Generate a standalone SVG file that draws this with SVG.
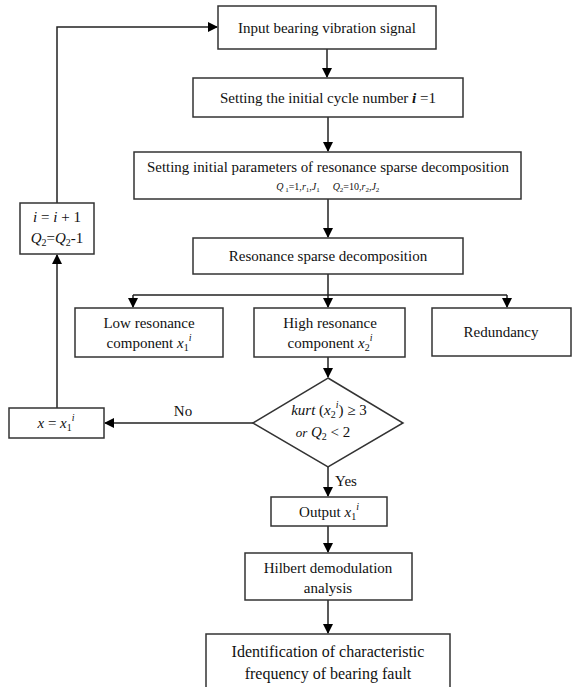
<svg xmlns="http://www.w3.org/2000/svg" width="573" height="687" viewBox="0 0 573 687">
<defs>
<marker id="ah" markerWidth="10" markerHeight="10" refX="9" refY="5" orient="auto" markerUnits="userSpaceOnUse">
<path d="M0,0 L10,5 L0,10 Z" fill="#000"/>
</marker>
<style>
.box{fill:#fff;stroke:#333;stroke-width:1.5}
.ln{fill:none;stroke:#222;stroke-width:1.5}
text{font-family:'Liberation Serif',serif;font-size:15px;fill:#111;text-anchor:middle}
.m{font-style:italic}
.sm{font-size:10px;font-style:italic}
.big{font-size:16px}
</style>
</defs>
<rect width="573" height="687" fill="#fff"/>
<g id="connectors">
<path class="ln" d="M327,49 V77" marker-end="url(#ah)"/>
<path class="ln" d="M328,117 V151" marker-end="url(#ah)"/>
<path class="ln" d="M328,199 V237" marker-end="url(#ah)"/>
<path class="ln" d="M328,274 V295"/>
<path class="ln" d="M133,295 H507"/>
<path class="ln" d="M133,295 V307" marker-end="url(#ah)"/>
<path class="ln" d="M328,295 V307" marker-end="url(#ah)"/>
<path class="ln" d="M507,295 V307" marker-end="url(#ah)"/>
<path class="ln" d="M328,357 V377" marker-end="url(#ah)"/>
<path class="ln" d="M253,423 H105" marker-end="url(#ah)"/>
<path class="ln" d="M328,467 V496" marker-end="url(#ah)"/>
<path class="ln" d="M328,526 V552" marker-end="url(#ah)"/>
<path class="ln" d="M328,600 V633" marker-end="url(#ah)"/>
<path class="ln" d="M57,408 V255" marker-end="url(#ah)"/>
<path class="ln" d="M57,203 V27 H217" marker-end="url(#ah)"/>
<text x="183" y="416">No</text>
<text x="346" y="486">Yes</text>
</g>
<g id="input">
<rect class="box" x="218" y="6" width="218" height="43"/>
<text x="327" y="33">Input bearing vibration signal</text>
</g>
<g id="init-cycle">
<rect class="box" x="193" y="78" width="270" height="39"/>
<text x="328" y="103">Setting the initial cycle number <tspan font-weight="bold" font-style="italic">i</tspan> =1</text>
</g>
<g id="init-params">
<rect class="box" x="134" y="152" width="387" height="47"/>
<text x="328" y="172" textLength="362" lengthAdjust="spacingAndGlyphs">Setting initial parameters of resonance sparse decomposition</text>
<text class="sm" x="298" y="190">Q<tspan font-size="7" dy="2" font-style="normal"> 1</tspan><tspan dy="-2" font-style="normal">=1,</tspan>r<tspan font-size="7" dy="2" font-style="normal">1</tspan><tspan dy="-2" font-style="normal">,</tspan>J<tspan font-size="7" dy="2" font-style="normal">1</tspan></text>
<text class="sm" x="356" y="190">Q<tspan font-size="7" dy="2" font-style="normal">2</tspan><tspan dy="-2" font-style="normal">=10,</tspan>r<tspan font-size="7" dy="2" font-style="normal">2</tspan><tspan dy="-2" font-style="normal">,</tspan>J<tspan font-size="7" dy="2" font-style="normal">2</tspan></text>
</g>
<g id="rsd">
<rect class="box" x="193" y="238" width="270" height="36"/>
<text x="328" y="261">Resonance sparse decomposition</text>
</g>
<g id="low">
<rect class="box" x="75" y="308" width="148" height="49"/>
<text x="149" y="328">Low resonance</text>
<text x="149" y="348">component <tspan class="m">x</tspan><tspan font-size="10" dy="3">1</tspan><tspan class="m" font-size="10" dy="-10">i</tspan></text>
</g>
<g id="high">
<rect class="box" x="254" y="308" width="151" height="49"/>
<text x="330" y="328">High resonance</text>
<text x="330" y="348">component <tspan class="m">x</tspan><tspan font-size="10" dy="3">2</tspan><tspan class="m" font-size="10" dy="-10">i</tspan></text>
</g>
<g id="redundancy">
<rect class="box" x="432" y="308" width="139" height="48"/>
<text x="501" y="337">Redundancy</text>
</g>
<g id="decision">
<polygon class="box" points="328,378 403,423 328,467 253,423"/>
<text x="329" y="415"><tspan class="m">kurt</tspan> (<tspan class="m">x</tspan><tspan font-size="10" dy="3">2</tspan><tspan class="m" font-size="10" dy="-10">i</tspan><tspan dy="7">) ≥ 3</tspan></text>
<text x="323" y="437"><tspan class="m" font-size="13">or</tspan>  <tspan class="m">Q</tspan><tspan font-size="10" dy="3">2</tspan><tspan dy="-3"> &lt; 2</tspan></text>
</g>
<g id="x-assign">
<rect class="box" x="9" y="408" width="95" height="30"/>
<text x="56" y="428"><tspan class="m">x</tspan> = <tspan class="m">x</tspan><tspan font-size="10" dy="3">1</tspan><tspan class="m" font-size="10" dy="-10">i</tspan></text>
</g>
<g id="increment">
<rect class="box" x="20" y="203" width="74" height="51"/>
<text x="57" y="222"><tspan class="m">i</tspan> = <tspan class="m">i</tspan> + 1</text>
<text x="57" y="243"><tspan class="m">Q</tspan><tspan font-size="10" dy="3">2</tspan><tspan dy="-3">=</tspan><tspan class="m">Q</tspan><tspan font-size="10" dy="3">2</tspan><tspan dy="-3">-1</tspan></text>
</g>
<g id="output">
<rect class="box" x="271" y="497" width="116" height="29"/>
<text x="329" y="517">Output <tspan class="m">x</tspan><tspan font-size="10" dy="3">1</tspan><tspan class="m" font-size="10" dy="-10">i</tspan></text>
</g>
<g id="hilbert">
<rect class="box" x="245" y="553" width="167" height="47"/>
<text x="328" y="573">Hilbert demodulation</text>
<text x="328" y="593">analysis</text>
</g>
<g id="identification">
<rect class="box" x="206" y="634" width="244" height="60"/>
<text class="big" x="328" y="657">Identification of characteristic</text>
<text class="big" x="328" y="679">frequency of bearing fault</text>
</g>
</svg>
